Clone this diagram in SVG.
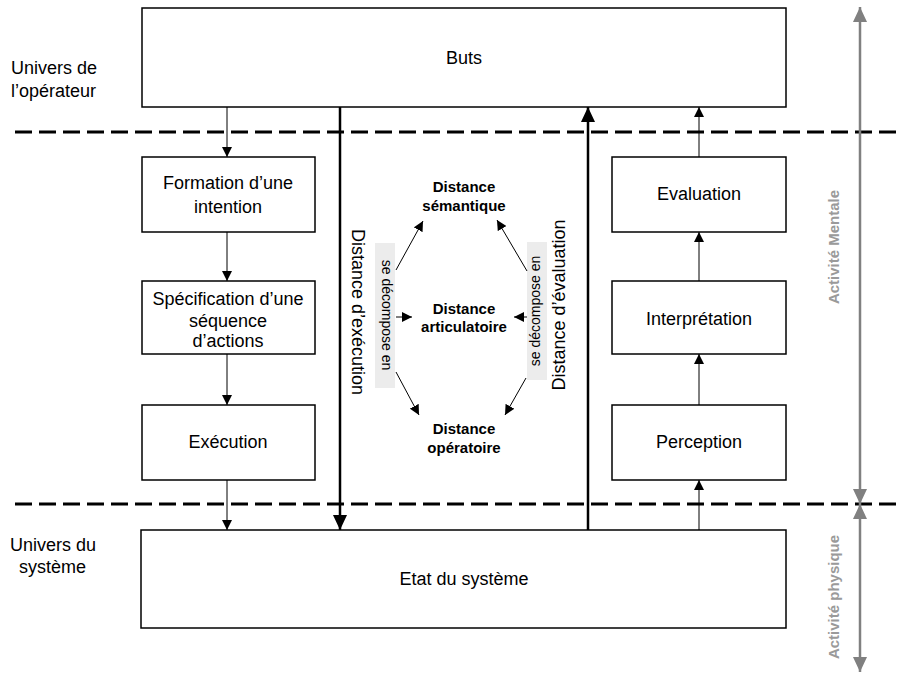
<svg xmlns="http://www.w3.org/2000/svg" width="902" height="675" viewBox="0 0 902 675">
<style>
.box{fill:#fff;stroke:#000;stroke-width:1.5}
.t{font-family:"Liberation Sans",Arial,sans-serif;font-size:18px;fill:#000;text-anchor:middle}
.tl{font-family:"Liberation Sans",Arial,sans-serif;font-size:18px;fill:#000}
.b{font-family:"Liberation Sans",Arial,sans-serif;font-size:15px;font-weight:bold;fill:#000;text-anchor:middle}
.v{font-family:"Liberation Sans",Arial,sans-serif;font-size:18px;fill:#000;text-anchor:middle}
.s{font-family:"Liberation Sans",Arial,sans-serif;font-size:14px;fill:#000;text-anchor:middle}
.g{font-family:"Liberation Sans",Arial,sans-serif;font-size:15px;font-weight:bold;fill:#9a9a9a;text-anchor:middle}
.thin{stroke:#000;stroke-width:1;fill:none;marker-end:url(#ah)}
.thick{stroke:#000;stroke-width:2.5;fill:none;marker-end:url(#ahb)}
.dash{stroke:#000;stroke-width:3;stroke-dasharray:17 7;fill:none}
.gray{stroke:#808080;stroke-width:2.5;fill:none}
</style>
<defs>
<marker id="ah" markerUnits="userSpaceOnUse" markerWidth="12" markerHeight="10" refX="10" refY="5" orient="auto"><path d="M0,0 L10,5 L0,10 Z" fill="#000"/></marker>
<marker id="ahb" markerUnits="userSpaceOnUse" markerWidth="16" markerHeight="14" refX="15" refY="7" orient="auto"><path d="M0,0 L15,7 L0,14 Z" fill="#000"/></marker>
<marker id="ahg" markerUnits="userSpaceOnUse" markerWidth="16" markerHeight="14" refX="15" refY="7" orient="auto-start-reverse"><path d="M0,0 L15,7 L0,14 Z" fill="#808080"/></marker>
</defs>

<g id="separators">
<line class="dash" x1="15" y1="132" x2="902" y2="132"/>
<line class="dash" x1="15" y1="504" x2="902" y2="504"/>
</g>

<g id="labels">
<text class="tl" x="11" y="74">Univers de</text>
<text class="tl" x="11" y="97">l’opérateur</text>
<text class="tl" x="10" y="551">Univers du</text>
<text class="tl" x="19" y="573">système</text>
</g>

<g id="buts"><rect class="box" x="142" y="8" width="644" height="99"/><text class="t" x="464" y="64">Buts</text></g>
<g id="formation"><rect class="box" x="142" y="157" width="173" height="75"/><text class="t" x="228" y="189">Formation d’une</text><text class="t" x="228" y="213">intention</text></g>
<g id="specification"><rect class="box" x="142" y="281" width="173" height="73"/><text class="t" x="228" y="305">Spécification d’une</text><text class="t" x="228" y="327">séquence</text><text class="t" x="228" y="347">d’actions</text></g>
<g id="execution"><rect class="box" x="142" y="405" width="173" height="75"/><text class="t" x="228" y="448">Exécution</text></g>
<g id="evaluation"><rect class="box" x="612" y="157" width="174" height="75"/><text class="t" x="699" y="200">Evaluation</text></g>
<g id="interpretation"><rect class="box" x="612" y="281" width="174" height="73"/><text class="t" x="699" y="325">Interprétation</text></g>
<g id="perception"><rect class="box" x="612" y="405" width="174" height="75"/><text class="t" x="699" y="448">Perception</text></g>
<g id="etat"><rect class="box" x="141" y="530" width="645" height="98"/><text class="t" x="464" y="585">Etat du système</text></g>

<g id="distance-semantique"><text class="b" x="464" y="192">Distance</text><text class="b" x="464" y="211">sémantique</text></g>
<g id="distance-articulatoire"><text class="b" x="464" y="314">Distance</text><text class="b" x="464" y="332">articulatoire</text></g>
<g id="distance-operatoire"><text class="b" x="464" y="434">Distance</text><text class="b" x="464" y="453">opératoire</text></g>

<g id="decompose-left">
<rect x="375" y="243" width="20" height="145" fill="#ececec"/>
<text class="s" transform="translate(382,315) rotate(90)">se décompose en</text>
</g>
<g id="decompose-right">
<rect x="527" y="242" width="20" height="138" fill="#ececec"/>
<text class="s" transform="translate(540,311) rotate(-90)">se décompose en</text>
</g>

<g id="dist-labels">
<text class="v" transform="translate(352,312) rotate(90)">Distance d’exécution</text>
<text class="v" transform="translate(565,305) rotate(-90)">Distance d’évaluation</text>
</g>

<g id="connectors">
<line class="thin" x1="227" y1="107" x2="227" y2="157"/>
<line class="thin" x1="227" y1="232" x2="227" y2="281"/>
<line class="thin" x1="227" y1="354" x2="227" y2="405"/>
<line class="thin" x1="227" y1="480" x2="227" y2="530"/>
<line class="thin" x1="699" y1="530" x2="699" y2="480"/>
<line class="thin" x1="699" y1="405" x2="699" y2="354"/>
<line class="thin" x1="699" y1="281" x2="699" y2="232"/>
<line class="thin" x1="699" y1="157" x2="699" y2="107"/>
<line class="thick" x1="340" y1="107" x2="340" y2="530"/>
<line class="thick" x1="588" y1="530" x2="588" y2="107"/>
<line class="thin" x1="396" y1="270" x2="423" y2="221"/>
<line class="thin" x1="396" y1="317" x2="412" y2="317"/>
<line class="thin" x1="396" y1="372" x2="419" y2="415"/>
<line class="thin" x1="527" y1="271" x2="497" y2="220"/>
<line class="thin" x1="527" y1="317" x2="514" y2="317"/>
<line class="thin" x1="526" y1="378" x2="505" y2="415"/>
</g>

<g id="activity-scale">
<line class="gray" x1="860" y1="7" x2="860" y2="504" marker-start="url(#ahg)" marker-end="url(#ahg)"/>
<line class="gray" x1="860" y1="504" x2="860" y2="672" marker-start="url(#ahg)" marker-end="url(#ahg)"/>
<text class="g" transform="translate(839,247) rotate(-90)">Activité Mentale</text>
<text class="g" transform="translate(839,597) rotate(-90)">Activité physique</text>
</g>
</svg>
